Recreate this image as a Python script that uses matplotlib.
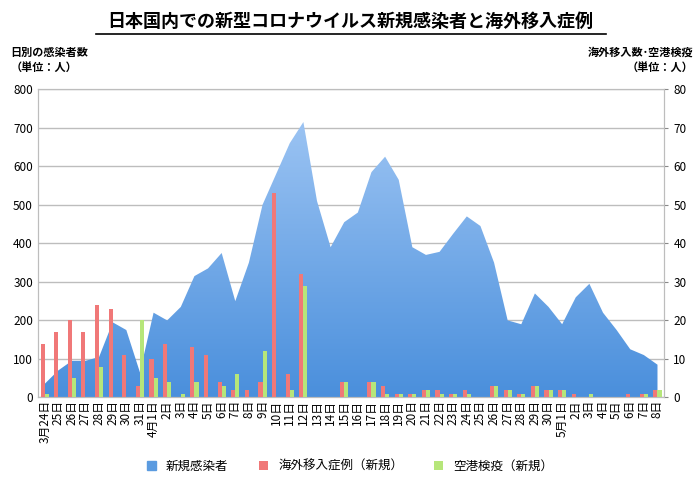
import matplotlib
matplotlib.use("Agg")
import matplotlib.pyplot as plt
import numpy as np
from matplotlib.patches import Polygon

plt.rcParams["font.family"] = ["Noto Sans CJK JP", "DejaVu Sans"]

labels = ["3月24日"] + [f"{d}日" for d in range(25, 32)] + ["4月1日"] + [f"{d}日" for d in range(2, 31)] + ["5月1日"] + [f"{d}日" for d in range(2, 9)]
domestic = [35, 70, 95, 95, 105, 195, 175, 65, 220, 200, 235, 315, 335, 375, 250, 350, 500, 580, 660, 715,
            510, 390, 455, 480, 585, 625, 565, 390, 370, 378, 425, 470, 445, 350, 200, 190, 270, 235, 190,
            260, 295, 220, 175, 125, 110, 85]
imported = [14, 17, 20, 17, 24, 23, 11, 3, 10, 14, 0, 13, 11, 4, 2, 2, 4, 53, 6, 32, 0, 0, 4, 0, 4, 3, 1, 1,
            2, 2, 1, 2, 0, 3, 2, 1, 3, 2, 2, 1, 0, 0, 0, 1, 1, 2]
airport = [1, 0, 5, 0, 8, 0, 0, 20, 5, 4, 1, 4, 0, 3, 6, 0, 12, 0, 2, 29, 0, 0, 4, 0, 4, 1, 1, 1, 2, 1, 1, 1,
           0, 3, 2, 1, 3, 2, 2, 0, 1, 0, 0, 0, 1, 2]

x = np.arange(len(labels))
fig = plt.figure(figsize=(7, 4.8), dpi=100)
ax = fig.add_axes([0.054, 0.172, 0.895, 0.642])
ax.set_xlim(-0.5, len(x) - 0.5)
ax.set_ylim(0, 800)
ax.set_yticks(range(0, 801, 100))
ax.grid(axis="y", color="#bdbdbd", lw=1)
ax.set_axisbelow(True)

# gradient area
verts = [(x[0], 0)] + list(zip(x, domestic)) + [(x[-1], 0)]
poly = Polygon(verts, closed=True, facecolor="none", edgecolor="none")
ax.add_patch(poly)
grad = np.linspace(0, 1, 256).reshape(-1, 1)
from matplotlib.colors import LinearSegmentedColormap
cmap = LinearSegmentedColormap.from_list("g", ["#4a8fdc", "#9cc4f3"])
im = ax.imshow(grad, extent=[x[0], x[-1], 0, 720], origin="lower", aspect="auto", cmap=cmap, zorder=2)
im.set_clip_path(poly)
ax.fill_between([], [], color="#5b9be0", label="新規感染者")

ax2 = ax.twinx()
ax2.set_ylim(0, 80)
ax2.set_yticks(range(0, 81, 10))
w = 0.3
ax2.bar(x - w / 2, imported, w, color="#f07878", label="海外移入症例（新規）", zorder=3)
ax2.bar(x + w / 2, airport, w, color="#b6e67a", label="空港検疫（新規）", zorder=3)

ax.set_xticks(x)
ax.set_xticklabels(labels, rotation=90, fontsize=8.5)
for a in (ax, ax2):
    a.tick_params(axis="y", labelsize=8.5, length=0)
    for s in a.spines.values():
        s.set_color("#bdbdbd")
ax.tick_params(axis="x", length=0, pad=2)
ax2.tick_params(axis="y", length=3, color="#888888")

fig.text(0.5, 0.955, "日本国内での新型コロナウイルス新規感染者と海外移入症例", ha="center", va="center",
         fontsize=13, fontweight="bold")
fig.add_artist(plt.Line2D([0.137, 0.866], [0.93, 0.93], color="black", lw=1.2))
fig.text(0.015, 0.875, "日別の感染者数\n（単位：人）", fontsize=8, va="center", fontweight="bold")
fig.text(0.99, 0.875, "海外移入数･空港検疫\n（単位：人）", fontsize=8, va="center", ha="right",
         fontweight="bold", multialignment="right")

h1, l1 = ax.get_legend_handles_labels()
h2, l2 = ax2.get_legend_handles_labels()
fig.legend(h1 + h2, l1 + l2, loc="center", bbox_to_anchor=(0.5, 0.028), ncol=3, frameon=False,
           fontsize=9, handlelength=0.7, handleheight=0.7, columnspacing=2.5)
fig.savefig("out.png", dpi=100)
